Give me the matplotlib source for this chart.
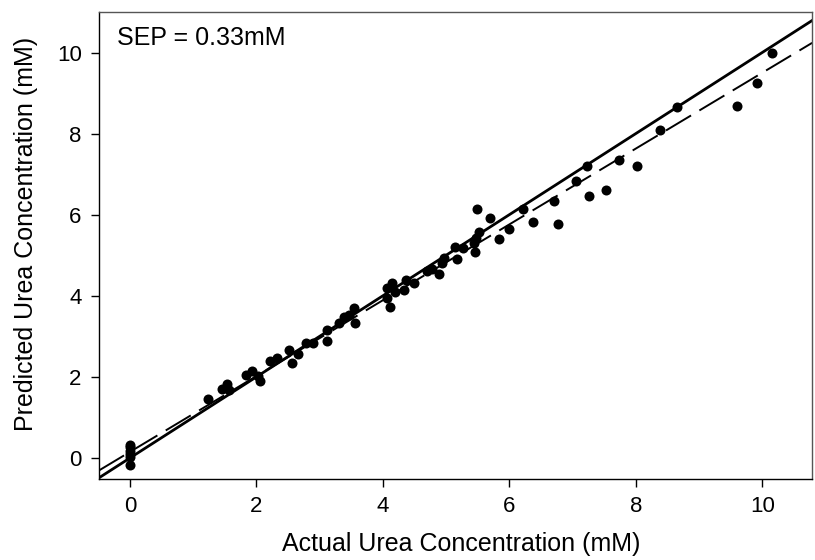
import matplotlib
matplotlib.use("Agg")
import matplotlib.pyplot as plt
import numpy as np

plt.rcParams['font.family'] = ['Liberation Sans', 'DejaVu Sans']

actual = [0, 0, 0, 0, 0, 0,
          1.24, 1.45, 1.53, 1.56, 1.83, 1.93, 2.02, 2.05,
          2.22, 2.32, 2.51, 2.57, 2.66, 2.79, 2.90, 3.12, 3.11,
          3.30, 3.38, 3.46, 3.55, 3.56,
          4.06, 4.11, 4.06, 4.14, 4.19, 4.33, 4.36, 4.50,
          4.69, 4.78, 4.88, 4.93, 4.96,
          5.14, 5.18, 5.27, 5.44, 5.46, 5.48, 5.52, 5.49, 5.69,
          5.84, 5.99, 6.21, 6.37, 6.71, 6.77, 7.05, 7.23, 7.26, 7.53,
          7.73, 8.02, 8.38, 8.65, 9.60, 9.92, 10.15]
predicted = [0.33, 0.26, 0.18, 0.10, 0.03, -0.17,
             1.46, 1.70, 1.82, 1.68, 2.05, 2.15, 2.02, 1.91,
             2.38, 2.46, 2.66, 2.35, 2.57, 2.83, 2.83, 3.16, 2.89,
             3.32, 3.47, 3.53, 3.69, 3.34,
             3.94, 3.72, 4.18, 4.32, 4.10, 4.14, 4.39, 4.32,
             4.62, 4.65, 4.54, 4.80, 4.92,
             5.21, 4.90, 5.17, 5.29, 5.09, 5.42, 5.58, 6.13, 5.92,
             5.40, 5.64, 6.14, 5.81, 6.35, 5.77, 6.82, 7.20, 6.45, 6.62,
             7.34, 7.20, 8.08, 8.66, 8.68, 9.25, 9.98]

identity_slope, identity_intercept = 1.0, 0.0
fit_slope, fit_intercept = 0.935, 0.15

xticks = [0, 2, 4, 6, 8, 10]
yticks = [0, 2, 4, 6, 8, 10]
xlim = (-0.49, 10.79)
ylim = (-0.52, 11.0)

fig = plt.figure(figsize=(8.15, 5.6), dpi=100)
ax = fig.add_axes([0.1215, 0.1446, 0.875, 0.834])

xs = np.array(xlim)
ax.plot(xs, identity_slope * xs + identity_intercept, color='black', lw=2.0, zorder=2)
ln, = ax.plot(xs, fit_slope * xs + fit_intercept, color='black', lw=1.4, zorder=2)
ln.set_dashes((15, 5))
ax.scatter(actual, predicted, s=52, color='black', zorder=3, linewidths=0)

ax.set_xlim(*xlim)
ax.set_ylim(*ylim)
ax.set_xticks(xticks)
ax.set_yticks(yticks)
ax.tick_params(direction='out', length=5.5, width=1, labelsize=16, pad=7)
for sp in ax.spines.values():
    sp.set_linewidth(1.0)
ax.spines['top'].set_color('#555555')
ax.spines['right'].set_color('#555555')

ax.set_xlabel('Actual Urea Concentration (mM)', fontsize=18)
ax.set_ylabel('Predicted Urea Concentration (mM)', fontsize=18)
ax.xaxis.set_label_coords(0.508, -0.1135)
ax.yaxis.set_label_coords(-0.0856, 0.525)
ax.text(0.025, 0.929, 'SEP = 0.33mM', transform=ax.transAxes, fontsize=18,
        ha='left', va='baseline')

fig.savefig('out.png', dpi=100)
